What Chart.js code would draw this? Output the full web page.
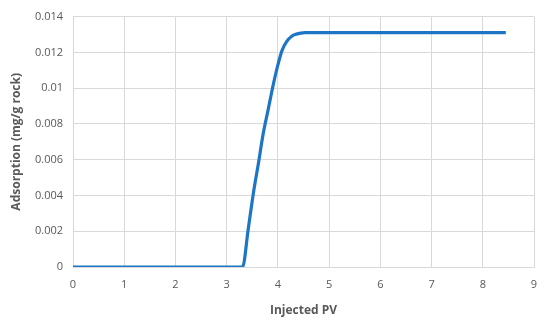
<!DOCTYPE html>
<html>
<head>
<meta charset="utf-8">
<script src="https://cdn.jsdelivr.net/npm/chart.js@4"></script>
<style>
  html, body { margin: 0; padding: 0; background: #fff; }
  #wrap { width: 550px; height: 324px; }
</style>
</head>
<body>
<div id="wrap"><canvas id="grafico"></canvas></div>
<script>
// curva de adsorção
const pvInjetado = [0, 3.31, 3.42, 3.52, 3.62, 3.71, 3.81, 3.91, 4.0, 4.08, 4.17, 4.27, 4.36, 4.45, 4.53, 8.45];
const adsorcao = [0, 0, 0.0021, 0.0041, 0.0058, 0.0074, 0.0088, 0.0102, 0.0113, 0.0121, 0.0126, 0.0129, 0.01302, 0.01308, 0.0131, 0.0131];
const ticksY = [0, 0.002, 0.004, 0.006, 0.008, 0.01, 0.012, 0.014];

const pontos = pvInjetado.map((x, i) => ({ x: x, y: adsorcao[i] }));
const cinza = '#595959';
const grade = '#d9d9d9';

new Chart(document.getElementById('grafico'), {
    type: 'scatter',
    data: {
        datasets: [{
            data: pontos,
            showLine: true,
            borderColor: '#1C76C4',
            borderWidth: 3.2,
            pointRadius: 0,
            cubicInterpolationMode: 'monotone',
            fill: false
        }]
    },
    options: {
        responsive: true,
        maintainAspectRatio: false,
        animation: false,
        layout: { padding: { top: 13, right: 16, bottom: 0, left: 0 } },
        plugins: { legend: { display: false }, tooltip: { enabled: false } },
        scales: {
            x: {
                type: 'linear',
                min: 0, max: 9,
                ticks: { stepSize: 1, color: cinza, padding: 11, font: { family: "'Open Sans', sans-serif", size: 11 } },
                grid: { color: grade, drawTicks: false },
                border: { color: grade },
                title: { display: true, text: 'Injected PV', color: cinza, padding: { top: 0, bottom: 6 },
                         font: { family: "'Open Sans', sans-serif", size: 12, weight: 'bold' } },
                afterFit: (s) => { s.height = 57; }
            },
            y: {
                min: 0, max: 0.014,
                afterBuildTicks: (s) => { s.ticks = ticksY.map(v => ({ value: v })); },
                ticks: { color: cinza, padding: 10, callback: (v) => String(+v.toFixed(3)),
                         font: { family: "'Open Sans', sans-serif", size: 11 } },
                grid: { color: grade, drawTicks: false },
                border: { color: grade },
                title: { display: true, text: 'Adsorption (mg/g rock)', color: cinza, padding: { top: 9, bottom: 0 },
                         font: { family: "'Open Sans', sans-serif", size: 12, weight: 'bold' } },
                afterFit: (s) => { s.width = 73; }
            }
        }
    }
});
</script>
</body>
</html>
